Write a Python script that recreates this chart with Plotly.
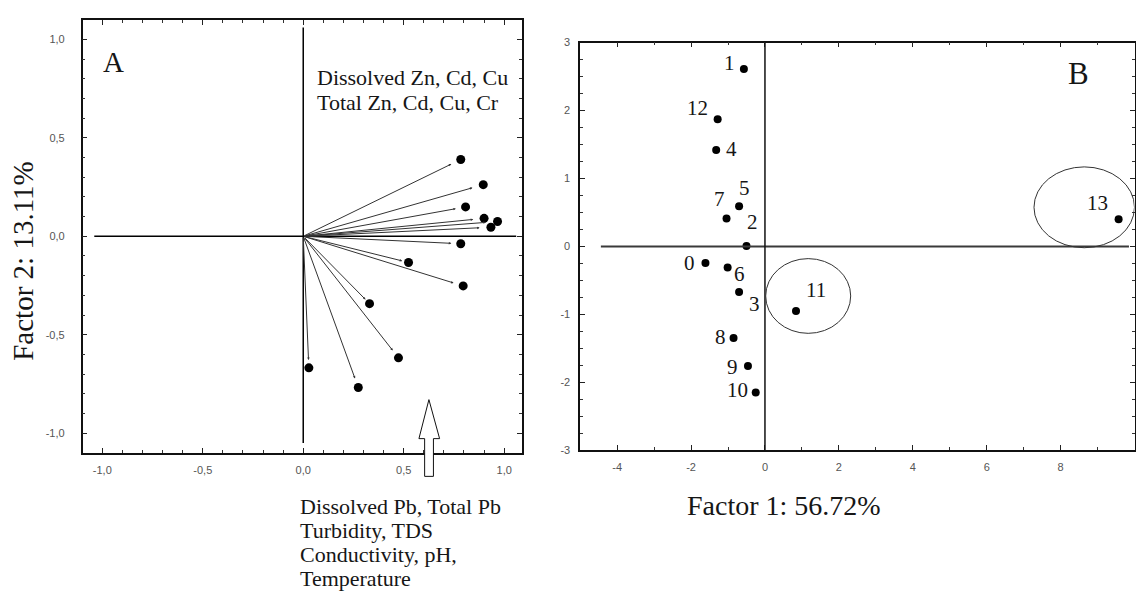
import plotly.graph_objects as go

# ---------------- data ----------------
# Panel A: variable loadings (Factor 1, Factor 2)
load_f1 = [0.784, 0.896, 0.808, 0.900, 0.967, 0.934, 0.784, 0.524, 0.796, 0.330, 0.474, 0.274, 0.028]
load_f2 = [0.390, 0.262, 0.149, 0.091, 0.075, 0.046, -0.038, -0.133, -0.252, -0.342, -0.617, -0.768, -0.668]

# Panel B: sample scores
sample_ids = ["0", "1", "2", "3", "4", "5", "6", "7", "8", "9", "10", "11", "12", "13"]
score_f1 = [-1.61, -0.57, -0.50, -0.70, -1.32, -0.70, -1.01, -1.04, -0.85, -0.46, -0.25, 0.84, -1.28, 9.57]
score_f2 = [-0.245, 2.61, 0.005, -0.67, 1.42, 0.59, -0.31, 0.41, -1.35, -1.76, -2.15, -0.95, 1.87, 0.40]

a_ticks = [-1.0, -0.5, 0.0, 0.5, 1.0]
a_ticktext = ["-1,0", "-0,5", "0,0", "0,5", "1,0"]
b_xticks = [-4, -2, 0, 2, 4, 6, 8, 10]
b_xticktext = ["-4", "-2", "0", "2", "4", "6", "8", "10"]
b_yticks = [-3, -2, -1, 0, 1, 2, 3]
b_yticktext = ["-3", "-2", "-1", "0", "1", "2", "3"]

top_group = ["Dissolved Zn, Cd, Cu", "Total Zn, Cd, Cu, Cr"]
bottom_group = ["Dissolved Pb, Total Pb", "Turbidity, TDS", "Conductivity, pH,", "Temperature"]

# ---------------- style / layout ----------------
W, H = 1136, 598
SERIF = "Liberation Serif, Times New Roman, serif"
SANS = "Liberation Sans, Arial, sans-serif"
TXT = "#161616"


def px(x):
    return x / W


def py(y):
    return 1 - y / H


# label offsets (pixels: dx right, dy down) for panel B point labels
label_off = {
    "0": (-16, 0), "1": (-14, -6), "2": (6, -24), "3": (15, 12), "4": (15, -1),
    "5": (5, -18), "6": (12, 7), "7": (-7, -20), "8": (-13, -1), "9": (-15, 1),
    "10": (-18, -2), "11": (20, -21), "12": (-20, -11), "13": (-21, -16),
}

fig = go.Figure()

# Panel A points
fig.add_trace(go.Scatter(
    x=load_f1, y=load_f2, mode="markers",
    marker=dict(color="#000000", size=9),
    xaxis="x", yaxis="y", showlegend=False, hoverinfo="skip",
))

# Panel B points
fig.add_trace(go.Scatter(
    x=score_f1, y=score_f2, mode="markers",
    marker=dict(color="#000000", size=8),
    xaxis="x2", yaxis="y2", showlegend=False, hoverinfo="skip",
))

annotations = []
# loading vectors (origin -> slightly short of each point)
for xv, yv in zip(load_f1, load_f2):
    annotations.append(dict(
        x=0.94 * xv, y=0.94 * yv, ax=0, ay=0, xref="x", yref="y", axref="x", ayref="y",
        text="", showarrow=True, arrowhead=2, arrowsize=0.5, arrowwidth=1,
        arrowcolor="#333333", standoff=0, startstandoff=0,
    ))

# sample labels
for sid, xv, yv in zip(sample_ids, score_f1, score_f2):
    dx, dy = label_off[sid]
    annotations.append(dict(
        x=xv, y=yv, xref="x2", yref="y2", text=sid, showarrow=False,
        xshift=dx, yshift=-dy, xanchor="center", yanchor="middle",
        font=dict(family=SERIF, size=21, color=TXT),
    ))

# panel letters
annotations.append(dict(x=px(114), y=py(57), xref="paper", yref="paper", text="A",
                        showarrow=False, xanchor="center", yanchor="middle",
                        font=dict(family=SERIF, size=29, color=TXT)))
annotations.append(dict(x=px(1079), y=py(69), xref="paper", yref="paper", text="B",
                        showarrow=False, xanchor="center", yanchor="middle",
                        font=dict(family=SERIF, size=31, color=TXT)))

# group texts
for i, t in enumerate(top_group):
    annotations.append(dict(x=px(315), y=py(73 + 25 * i), xref="paper", yref="paper", text=t,
                            showarrow=False, xanchor="left", yanchor="middle",
                            font=dict(family=SERIF, size=22, color=TXT)))
for i, t in enumerate(bottom_group):
    annotations.append(dict(x=px(298), y=py(511 + 24.5 * i), xref="paper", yref="paper", text=t,
                            showarrow=False, xanchor="left", yanchor="middle",
                            font=dict(family=SERIF, size=22, color=TXT)))

# axis titles
annotations.append(dict(x=px(785), y=py(510), xref="paper", yref="paper", text="Factor 1: 56.72%",
                        showarrow=False, xanchor="center", yanchor="middle",
                        font=dict(family=SERIF, size=28, color=TXT)))
annotations.append(dict(x=px(23), y=py(260), xref="paper", yref="paper", text="Factor 2: 13.11%",
                        showarrow=False, xanchor="center", yanchor="middle", textangle=-90,
                        font=dict(family=SERIF, size=29, color=TXT)))

shapes = []
# panel A cross lines
shapes.append(dict(type="line", xref="x", yref="y", x0=-1.04, x1=1.06, y0=0, y1=0,
                   line=dict(color="#000000", width=1.5)))
shapes.append(dict(type="line", xref="x", yref="y", x0=0, x1=0, y0=-1.05, y1=1.06,
                   line=dict(color="#000000", width=1.5)))
# panel B cross lines
shapes.append(dict(type="line", xref="x2", yref="y2", x0=-4.44, x1=9.85, y0=0, y1=0,
                   line=dict(color="#3a3a3a", width=2)))
shapes.append(dict(type="line", xref="x2", yref="y2", x0=0, x1=0, y0=-3, y1=3,
                   line=dict(color="#111111", width=1.5)))
# ellipses around samples 11 and 13
shapes.append(dict(type="circle", xref="x2", yref="y2", x0=0.02, x1=2.32, y0=-1.28, y1=-0.18,
                   line=dict(color="#333333", width=1)))
shapes.append(dict(type="circle", xref="x2", yref="y2", x0=7.28, x1=10.0, y0=-0.02, y1=1.17,
                   line=dict(color="#333333", width=1)))
# hollow arrow in panel A
arrow_pts = [(429.3, 401.7), (440, 441.5), (433.8, 441.5), (433.8, 480), (425, 480),
             (425, 441.5), (419.3, 441.5)]
path = "M " + " L ".join(f"{px(a):.5f},{py(b):.5f}" for a, b in arrow_pts) + " Z"
shapes.append(dict(type="path", xref="paper", yref="paper", path=path,
                   fillcolor="white", line=dict(color="#111111", width=1)))

axis_common = dict(
    showline=True, linecolor="#111111", linewidth=1.5, mirror="ticks",
    ticks="inside", ticklen=5, tickcolor="#222222", tickwidth=1,
    showgrid=False, zeroline=False,
    tickfont=dict(family=SANS, size=11, color="#555555"),
)

fig.update_layout(
    width=W, height=H,
    margin=dict(l=0, r=0, t=0, b=0),
    paper_bgcolor="white", plot_bgcolor="white",
    showlegend=False,
    xaxis=dict(domain=[px(82.7), px(522.7)], range=[-1.098, 1.09], anchor="y",
               tickvals=a_ticks, ticktext=a_ticktext, ticklabelstandoff=6,
               minor=dict(dtick=0.1, tick0=0, ticks="inside", ticklen=3, tickcolor="#333333"),
               **axis_common),
    yaxis=dict(domain=[py(455.7), py(14.3)], range=[-1.098, 1.098], anchor="x",
               tickvals=a_ticks, ticktext=a_ticktext, ticklabelstandoff=14,
               minor=dict(dtick=0.1, tick0=0, ticks="inside", ticklen=3, tickcolor="#333333"),
               **axis_common),
    xaxis2=dict(domain=[px(580.7), px(1135.5)], range=[-5, 10], anchor="y2",
                tickvals=b_xticks, ticktext=b_xticktext, ticklabelstandoff=6,
                minor=dict(dtick=1, tick0=0, ticks="inside", ticklen=3, tickcolor="#333333"),
                **axis_common),
    yaxis2=dict(domain=[py(453.3), py(37.3)], range=[-3, 3], anchor="x2",
                tickvals=b_yticks, ticktext=b_yticktext, ticklabelstandoff=6,
                minor=dict(dtick=0.25, tick0=0, ticks="inside", ticklen=3, tickcolor="#333333"),
                **axis_common),
    annotations=annotations,
    shapes=shapes,
)

fig.write_html(
    "out.html",
    config={"displayModeBar": False},
    post_script="document.body.style.margin='0';document.body.style.overflow='hidden';",
)
